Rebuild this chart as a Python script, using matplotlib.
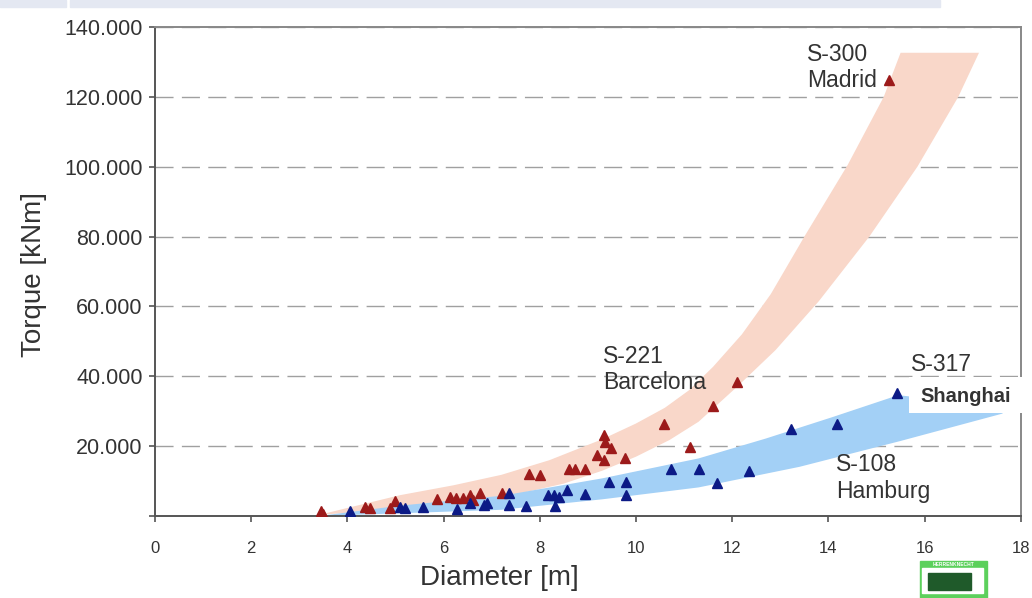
import matplotlib
matplotlib.use("Agg")
import matplotlib.pyplot as plt
from matplotlib.patches import Rectangle
from matplotlib.ticker import FuncFormatter

plt.rcParams['font.family'] = ['Liberation Sans', 'DejaVu Sans']

# measured machines (diameter m, torque kNm)
red_x = [3.45, 3.5, 4.37, 4.47, 4.89, 4.99, 5.87, 6.14, 6.26, 6.4, 6.55, 6.62, 6.76,
         7.21, 7.77, 8.0, 8.6, 8.74, 8.93, 9.19, 9.34, 9.36, 9.47, 9.34, 9.78,
         10.58, 11.13, 11.6, 12.09, 15.26]
red_y = [1500, 700, 2650, 2200, 2400, 4200, 4900, 5500, 5140, 5140, 6000, 4570, 6570,
         6500, 12000, 11700, 13340, 13340, 13340, 17430, 23140, 21230, 19340, 16000, 16490,
         26490, 19800, 31430, 38370, 124770]

blue_x = [4.06, 5.1, 5.2, 5.57, 6.28, 6.55, 6.83, 6.9, 7.35, 7.35, 7.72, 8.16, 8.29,
          8.39, 8.32, 8.57, 8.93, 9.43, 9.8, 9.8, 10.72, 11.3, 11.69, 12.35, 13.23,
          14.18, 15.42]
blue_y = [1500, 2600, 2200, 2490, 1910, 3630, 3140, 3630, 6500, 3140, 2860, 6000, 6000,
          5500, 2860, 7430, 6290, 9800, 9800, 6000, 13340, 13340, 9340, 12940, 25060,
          26290, 35340]

# trend bands (edge points)
red_up_x = [3.4, 4.2, 5.1, 6.2, 7.2, 8.2, 9.3, 10.0, 10.6, 11.1, 11.6, 12.2, 12.8,
            13.5, 14.4, 15.15, 15.5]
red_up_y = [300, 3000, 6000, 8800, 11800, 16000, 22000, 26500, 31000, 36000, 42700,
            52000, 63500, 80000, 100500, 120000, 132600]
red_lo_x = [3.4, 4.5, 5.5, 6.5, 7.5, 8.5, 9.3, 10.0, 10.7, 11.3, 12.1, 12.9, 13.8,
            14.85, 15.85, 16.7, 17.13]
red_lo_y = [300, 1500, 2800, 4200, 6200, 9300, 13000, 17000, 21800, 27000, 37000,
            47500, 61500, 80000, 100000, 120000, 132600]

blue_up_x = [3.4, 5.1, 7.2, 9.3, 11.3, 12.7, 14.1, 15.45, 16.5, 17.62]
blue_up_y = [0, 3000, 5800, 10800, 16500, 22200, 28400, 34600, 33000, 30500]
blue_lo_x = [3.4, 5.1, 7.2, 9.3, 11.3, 13.4, 15.5, 17.62]
blue_lo_y = [0, 800, 1800, 4800, 8200, 14100, 21500, 29340]

x_ticks = [0, 2, 4, 6, 8, 10, 12, 14, 16, 18]
y_ticks = [0, 20000, 40000, 60000, 80000, 100000, 120000, 140000]

labels = [("S-300\nMadrid", 13.55, 128400),
          ("S-221\nBarcelona", 9.31, 42000),
          ("S-317", 15.71, 43430),
          ("S-108\nHamburg", 14.15, 10860)]

fig = plt.figure(figsize=(10.32, 5.98), dpi=100)
ax = fig.add_axes([0.1502, 0.137, 0.839, 0.818])

# slide header strip
fig.patches.append(Rectangle((0, 0.988), 0.064, 0.012, transform=fig.transFigure,
                             color='#e4e8f2', zorder=0))
fig.patches.append(Rectangle((0.068, 0.988), 0.843, 0.012, transform=fig.transFigure,
                             color='#e4e8f2', zorder=0))

ax.fill(red_up_x + red_lo_x[::-1], red_up_y + red_lo_y[::-1],
        color='#f9d7c9', lw=0, zorder=1)
ax.fill(blue_up_x + blue_lo_x[::-1], blue_up_y + blue_lo_y[::-1],
        color='#a3d0f6', lw=0, zorder=1.5)

ax.plot(red_x, red_y, linestyle='none', marker='^', ms=7.5, color='#9c1a1a', zorder=3)
ax.plot(blue_x, blue_y, linestyle='none', marker='^', ms=7, color='#0c1a86', zorder=3)

for txt, x, y in labels:
    ax.text(x, y, txt, fontsize=16.5, color='#333333', va='center', ha='left',
            linespacing=1.2, zorder=4)

# white box with Shanghai over the band end
ax.add_patch(Rectangle((15.67, 29500), 2.6, 10200, facecolor='white', edgecolor='none',
                       clip_on=False, zorder=5))
ax.text(15.92, 34300, "Shanghai", fontsize=14.5, fontweight='bold', color='#333333',
        va='center', ha='left', zorder=6)

ax.set_xlim(0, 18)
ax.set_ylim(0, 140000)
ax.set_xticks(x_ticks)
ax.set_yticks(y_ticks)
ax.yaxis.set_major_formatter(FuncFormatter(
    lambda v, p: '' if v == 0 else f"{int(v):,}".replace(',', '.')))
ax.tick_params(axis='y', labelsize=15.5, length=4, width=1.2, pad=5, colors='#555555',
               labelcolor='#333333')
ax.tick_params(axis='x', labelsize=12, length=4, width=1.2, pad=14, colors='#555555',
               labelcolor='#333333')

ax.yaxis.grid(True, linestyle=(0, (13, 6)), color='#a0a0a0', lw=1.0)
ax.set_axisbelow(True)
for s in ax.spines.values():
    s.set_color('#555555')
    s.set_linewidth(1.4)
for s in ['top', 'right']:
    ax.spines[s].set_color('#888888')

ax.set_xlabel("Diameter [m]", fontsize=20, color='#333333')
ax.set_ylabel("Torque [kNm]", fontsize=20, color='#333333')
ax.xaxis.set_label_coords(0.398, -0.1)
ax.yaxis.set_label_coords(-0.125, 0.493)

# small company logo in the corner
fig.patches.append(Rectangle((0.891, 0.0), 0.065, 0.062, transform=fig.transFigure,
                             color='#5cd05c', zorder=5))
fig.patches.append(Rectangle((0.893, 0.008), 0.060, 0.042, transform=fig.transFigure,
                             color='white', zorder=6))
fig.patches.append(Rectangle((0.899, 0.013), 0.042, 0.029, transform=fig.transFigure,
                             color='#1f5a2a', zorder=7))
fig.text(0.9235, 0.056, "HERRENKNECHT", fontsize=3.5, color='white', ha='center',
         va='center', fontweight='bold', zorder=8)

fig.savefig("out.png", dpi=100)
